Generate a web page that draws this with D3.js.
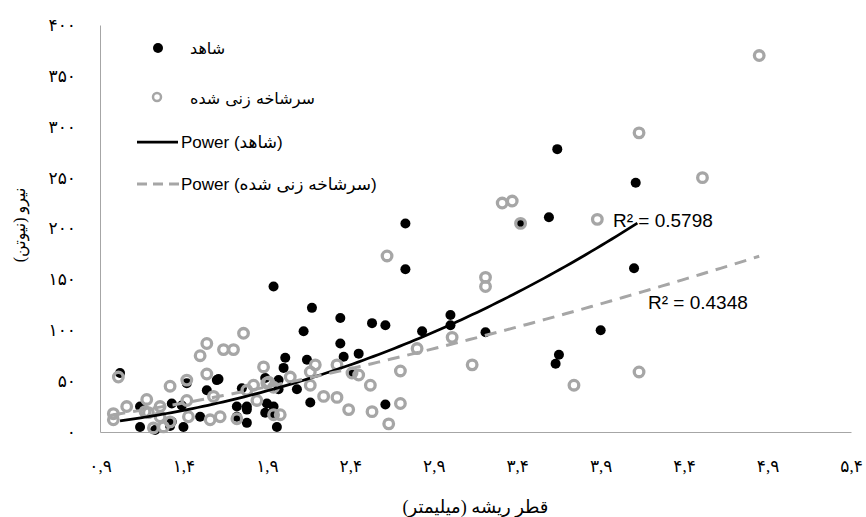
<!DOCTYPE html>
<html>
<head>
<meta charset="utf-8">
<script src="https://cdn.jsdelivr.net/npm/d3@7"></script>
<style>
  body { margin: 0; background: #fff; }
  text { fill: #000; }
</style>
</head>
<body>
<svg id="chart" width="866" height="517"></svg>
<script>
'use strict';

// شاهد (control) - black dots
const controlPts = [
  [2.73,205],[2.73,160],[2.17,122],[2.34,112],[2.53,107],[2.61,105],[2.12,99],[2.83,99],
  [3.0,115],[3.0,105],[3.21,98],[2.34,87],[2.36,74],[2.45,77],[2.14,71],[2.16,29],[2.61,27],
  [3.42,205],[3.64,278],[4.11,245],[3.59,211],[4.1,161],[3.9,100],[3.65,76],[3.63,67],
  [1.94,143],[2.01,73],[2.0,63],[1.6,51],[1.61,52],[1.54,41],[1.42,48],[1.75,43],[2.08,42],
  [1.97,51],[1.89,53],[1.14,25],[1.33,28],[1.39,26],[1.78,25],[1.72,25],[1.9,28],[1.94,25],
  [1.89,19],[1.5,15],[1.14,5],[1.23,2],[1.32,6],[1.4,5],[1.78,9],[1.96,5],[1.02,58],
  [1.72,15],[1.78,22],[1.33,10],[2.41,58],[1.97,42],[1.93,18]
];

// سرشاخه زنی شده (pruned) - grey rings
const prunedPts = [
  [4.85,370],[4.13,294],[4.51,250],[3.88,209],[3.42,205],[3.31,225],[3.37,227],[2.62,173],
  [3.21,152],[3.21,143],[3.01,93],[2.8,82],[3.13,66],[2.7,60],[2.52,46],[2.32,66],[2.19,66],
  [2.16,59],[2.16,46],[2.24,35],[2.32,34],[2.39,22],[2.53,20],[2.7,28],[2.63,8],[2.41,58],
  [2.45,56],[4.13,59],[3.74,46],[1.01,54],[1.76,97],[1.54,87],[1.5,75],[1.64,81],[1.7,81],
  [1.54,57],[1.42,51],[1.32,45],[1.42,31],[1.58,35],[1.88,64],[2.04,54],[1.82,46],[1.78,41],
  [1.91,49],[1.84,31],[1.18,32],[1.06,25],[0.98,18],[0.98,12],[1.26,25],[1.19,19],[1.26,15],
  [1.32,10],[1.43,15],[1.56,12],[1.62,15],[1.72,13],[1.94,17],[1.98,17],[1.22,4],[1.28,5],
  [1.9,48],[1.94,44],[1.17,20]
];

// power trendlines y = a * x^b
const fitA = [10.5, 17.5];
const fitB = [2.1, 1.45];
const fitFrom = [1.02, 0.98];
const fitTo = [4.12, 4.85];
const fitR2 = ['R² = 0.5798', 'R² = 0.4348'];

const xTicks = [0.9, 1.4, 1.9, 2.4, 2.9, 3.4, 3.9, 4.4, 4.9, 5.4];
const xTickLabels = ['۰,۹','۱,۴','۱,۹','۲,۴','۲,۹','۳,۴','۳,۹','۴,۴','۴,۹','۵,۴'];
const yTicks = [0, 50, 100, 150, 200, 250, 300, 350, 400];
const yTickLabels = ['۰','۵۰','۱۰۰','۱۵۰','۲۰۰','۲۵۰','۳۰۰','۳۵۰','۴۰۰'];

const legendNames = ['شاهد', 'سرشاخه زنی شده', 'Power (شاهد)', 'Power (سرشاخه زنی شده)'];

const svg = d3.select('#chart');
const mLeft = 100, mRight = 851, mTop = 25, mBottom = 432;
const grey = '#a6a6a6';
const faFont = '"Times New Roman", "Liberation Serif", "DejaVu Sans", serif';

const x = d3.scaleLinear().domain([0.9, 5.4]).range([mLeft, mRight]);
const y = d3.scaleLinear().domain([0, 400]).range([mBottom, mTop]);

// axes
svg.append('g')
  .attr('transform', 'translate(0,' + mBottom + ')')
  .call(d3.axisBottom(x).tickValues(xTicks).tickSize(0).tickPadding(28)
    .tickFormat((d, i) => xTickLabels[i]));
svg.append('g')
  .attr('transform', 'translate(' + mLeft + ',0)')
  .call(d3.axisLeft(y).tickValues(yTicks).tickSize(0).tickPadding(24)
    .tickFormat((d, i) => yTickLabels[i]));

svg.selectAll('.domain').attr('stroke', grey).attr('stroke-width', 1);
svg.selectAll('.tick text')
  .style('font-family', faFont).style('font-size', '17px').attr('fill', '#000');

// points
svg.append('g').selectAll('circle')
  .data(controlPts).enter().append('circle')
  .attr('cx', d => x(d[0])).attr('cy', d => y(d[1]))
  .attr('r', 5).attr('fill', '#000');

svg.append('g').selectAll('circle')
  .data(prunedPts).enter().append('circle')
  .attr('cx', d => x(d[0])).attr('cy', d => y(d[1]))
  .attr('r', 4.8).attr('fill', 'none')
  .attr('stroke', grey).attr('stroke-width', 3.3);

// trendlines
const line = d3.line().x(d => x(d[0])).y(d => y(d[1]));
for (let k = 0; k < 2; k++) {
  const pts = d3.range(0, 101).map(i => {
    const xv = fitFrom[k] + (fitTo[k] - fitFrom[k]) * i / 100;
    return [xv, fitA[k] * Math.pow(xv, fitB[k])];
  });
  svg.append('path').datum(pts)
    .attr('d', line).attr('fill', 'none')
    .attr('stroke', k === 0 ? '#000' : grey)
    .attr('stroke-width', k === 0 ? 2.75 : 3)
    .attr('stroke-dasharray', k === 0 ? null : '12,8');
}

// R2 labels
svg.append('text').attr('x', 613).attr('y', 227)
  .style('font-family', 'Liberation Sans, Arial, sans-serif').style('font-size', '19px')
  .text(fitR2[0]);
svg.append('text').attr('x', 648).attr('y', 309)
  .style('font-family', 'Liberation Sans, Arial, sans-serif').style('font-size', '19px')
  .text(fitR2[1]);

// legend
const lg = svg.append('g');
lg.append('circle').attr('cx', 158).attr('cy', 48).attr('r', 5).attr('fill', '#000');
lg.append('circle').attr('cx', 157).attr('cy', 97).attr('r', 4).attr('fill', 'none')
  .attr('stroke', grey).attr('stroke-width', 2.5);
lg.append('line').attr('x1', 137).attr('x2', 178).attr('y1', 142).attr('y2', 142)
  .attr('stroke', '#000').attr('stroke-width', 2.75);
lg.append('line').attr('x1', 137).attr('x2', 180).attr('y1', 184).attr('y2', 184)
  .attr('stroke', grey).attr('stroke-width', 3).attr('stroke-dasharray', '10,6');
const legY = [54, 104, 148, 190];
legendNames.forEach((t, i) => {
  lg.append('text').attr('x', i < 2 ? 190 : 181).attr('y', legY[i])
    .attr('direction', 'ltr')
    .style('font-family', i < 2 ? '"DejaVu Sans", sans-serif' : '"Liberation Sans", Arial, "DejaVu Sans", sans-serif')
    .style('font-size', i < 2 ? '16px' : '17px')
    .text(t);
});

// axis titles
svg.append('text').attr('x', (mLeft + mRight) / 2).attr('y', 513)
  .attr('text-anchor', 'middle')
  .style('font-family', faFont).style('font-size', '18px')
  .text('قطر ریشه (میلیمتر)');
svg.append('text')
  .attr('transform', 'translate(25,225) rotate(-90)')
  .attr('text-anchor', 'middle')
  .style('font-family', faFont).style('font-size', '16px')
  .text('نیرو (نیوتن)');
</script>
</body>
</html>
